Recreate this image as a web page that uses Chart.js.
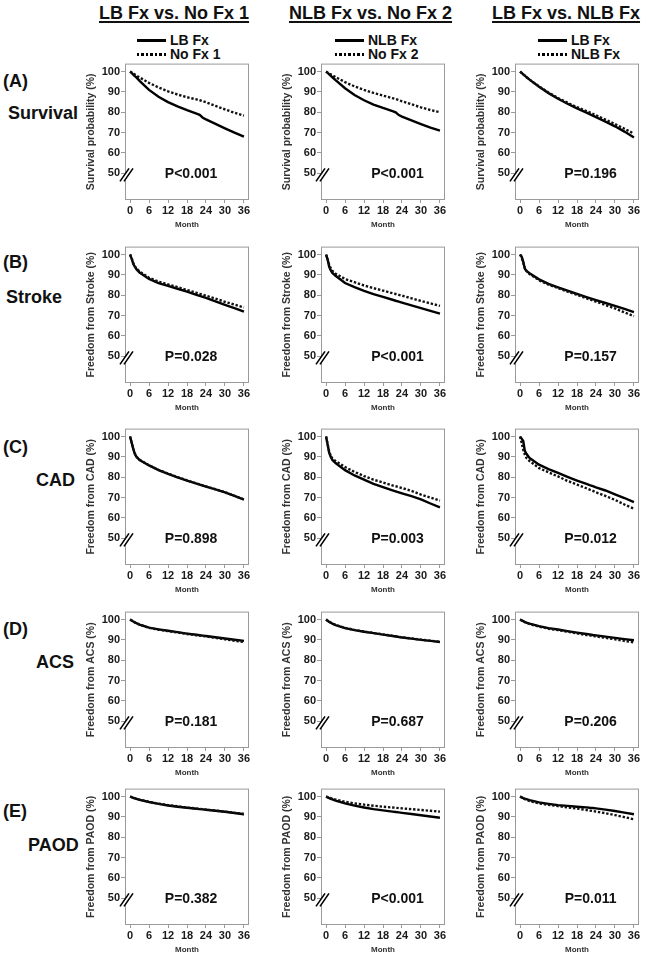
<!DOCTYPE html>
<html>
<head>
<meta charset="utf-8">
<script src="https://cdn.jsdelivr.net/npm/chart.js@4.4.0/dist/chart.umd.min.js"></script>
<style>
body { margin: 0; background: #fff; }
#fig { position: relative; width: 648px; height: 959px; overflow: hidden; font-family: "Liberation Sans", Arial, sans-serif; color: #111; }
.lbl { position: absolute; font-weight: bold; white-space: nowrap; line-height: 1; }
.coltitle { font-size: 18px; text-decoration: underline; text-decoration-thickness: 1.5px; text-underline-offset: 2px; }
.rowtag { font-size: 18px; }
.legtext { font-size: 14px; }
.solid { position: absolute; height: 3px; background: #000; }
.dotted { position: absolute; height: 3px; background: repeating-linear-gradient(90deg, #000 0 2.5px, transparent 2.5px 4.5px); }
canvas { position: absolute; }
</style>
</head>
<body>
<div id="fig"></div>
<script>
// shared axes -----------------------------------------------
const months = [0, 0.5, 1, 1.5, 2, 3, 6, 9, 12, 15, 18, 21, 22, 23, 24, 27, 30, 33, 36];
const xTicks = [0, 6, 12, 18, 24, 30, 36];
const yTicks = [50, 60, 70, 80, 90, 100];

const colTitles = ['LB Fx vs. No Fx 1', 'NLB Fx vs. No Fx 2', 'LB Fx vs. NLB Fx'];
const legendNames = [['LB Fx', 'No Fx 1'], ['NLB Fx', 'No Fx 2'], ['LB Fx', 'NLB Fx']];
const rowTags = ['(A)', '(B)', '(C)', '(D)', '(E)'];
const rowNames = ['Survival', 'Stroke', 'CAD', 'ACS', 'PAOD'];
const yTitles = ['Survival probability (%)', 'Freedom from Stroke (%)', 'Freedom from CAD (%)',
                 'Freedom from ACS (%)', 'Freedom from PAOD (%)'];
const pValues = [
    ['P<0.001', 'P<0.001', 'P=0.196'],
    ['P=0.028', 'P<0.001', 'P=0.157'],
    ['P=0.898', 'P=0.003', 'P=0.012'],
    ['P=0.181', 'P=0.687', 'P=0.206'],
    ['P=0.382', 'P<0.001', 'P=0.011']
];

// (A) survival
const survLbFx1 = [100, 99.3, 98.5, 97.8, 97.1, 95.4, 91, 87.6, 85, 82.9, 81, 79.3, 78.7, 77.3, 76.5, 74.3, 72.1, 70, 68];
const survNoFx1 = [100, 99.5, 99, 98.5, 98, 97.1, 94.4, 92.2, 90.3, 88.7, 87.4, 86.3, 85.9, 85.4, 84.9, 83.1, 81.4, 79.8, 78.3];
const survNlbFx2 = [100, 99.3, 98.6, 97.9, 97.2, 95.8, 91.8, 88.5, 85.9, 83.8, 82.1, 80.6, 80, 78.6, 77.9, 76, 74.2, 72.5, 71];
const survNoFx2 = [100, 99.5, 99.1, 98.6, 98.2, 97.3, 94.8, 92.7, 91, 89.5, 88.2, 86.9, 86.5, 86, 85.4, 83.9, 82.4, 81.1, 80];
const survLbFx3 = [100, 99.3, 98.6, 98, 97.3, 96, 92.5, 89.4, 86.6, 84.2, 81.9, 79.8, 79.1, 78.3, 77.6, 75.4, 73.1, 70.5, 67.6];
const survNlbFx3 = [100, 99.3, 98.6, 98, 97.3, 96, 92.7, 89.7, 87, 84.7, 82.5, 80.6, 79.9, 79.2, 78.5, 76.4, 74.2, 71.9, 69.5];

// (B) stroke
const strokeLbFx1 = [100, 98, 95.5, 94, 92.8, 91.2, 88, 86, 84.6, 83.2, 81.8, 80.2, 79.7, 79.2, 78.7, 77, 75.3, 73.7, 72];
const strokeNoFx1 = [100, 98.2, 95.8, 94.3, 93.2, 91.7, 88.6, 86.7, 85.3, 84, 82.6, 81.2, 80.7, 80.2, 79.8, 78.3, 76.8, 75.4, 74];
const strokeNlbFx2 = [100, 97.5, 94, 92.2, 91, 89.6, 86, 84, 82.2, 80.6, 79.2, 77.8, 77.3, 76.9, 76.4, 75, 73.7, 72.3, 71];
const strokeNoFx2 = [100, 97.8, 95, 93.2, 92, 90.6, 88, 86.4, 84.8, 83.5, 82.3, 81, 80.6, 80.2, 79.8, 78.5, 77.2, 76, 74.8];
const strokeLbFx3 = [100, 99, 96.5, 93, 92, 90.8, 87.8, 85.6, 83.9, 82.3, 80.7, 79.1, 78.6, 78.1, 77.6, 76.2, 74.8, 73.3, 71.7];
const strokeNlbFx3 = [100, 98.5, 96, 93.5, 92, 90.4, 87.4, 85.2, 83.5, 81.8, 80.2, 78.5, 78, 77.4, 76.9, 75.2, 73.5, 71.6, 69.7];

// (C) CAD
const cadLbFx1 = [100, 97, 94, 91.5, 90, 88.5, 85.8, 83.5, 81.7, 80, 78.4, 76.9, 76.4, 75.9, 75.4, 74, 72.6, 70.8, 69];
const cadNoFx1 = [100, 97, 94.2, 91.7, 90.2, 88.6, 85.9, 83.6, 81.8, 80.1, 78.5, 77, 76.5, 76, 75.5, 74.1, 72.7, 70.9, 69.1];
const cadNlbFx2 = [100, 96, 92, 90, 88.5, 87, 83.5, 80.9, 78.8, 76.8, 75.2, 73.6, 73.1, 72.6, 72.1, 70.7, 69.1, 67.1, 65.2];
const cadNoFx2 = [100, 96.2, 92.5, 90.6, 89.2, 88, 85, 82.6, 80.6, 78.8, 77.4, 76, 75.6, 75.1, 74.7, 73.3, 71.5, 70, 68.5];
const cadLbFx3 = [100, 99, 97.8, 93, 91.5, 89.5, 86.2, 84, 82.1, 80.2, 78.4, 76.7, 76.1, 75.6, 75, 73.5, 71.6, 69.8, 67.8];
const cadNlbFx3 = [100, 97, 93.5, 91.2, 89.5, 88, 84.5, 82.4, 80.4, 78.2, 76.4, 74.6, 73.9, 73.3, 72.6, 70.8, 68.9, 66.6, 64.5];

// (D) ACS
const acsLbFx1 = [100, 99.5, 99, 98.6, 98.2, 97.5, 96, 95.2, 94.5, 93.8, 93.1, 92.5, 92.3, 92.1, 91.9, 91.3, 90.7, 90.1, 89.5];
const acsNoFx1 = [100, 99.5, 99, 98.6, 98.2, 97.5, 95.9, 95, 94.3, 93.6, 92.9, 92.3, 92.1, 91.9, 91.7, 91, 90.3, 89.6, 89];
const acsNlbFx2 = [100, 99.4, 98.8, 98.4, 98, 97.3, 95.8, 94.8, 94, 93.3, 92.6, 91.9, 91.7, 91.4, 91.2, 90.6, 90, 89.5, 89];
const acsNoFx2 = [100, 99.4, 98.9, 98.5, 98.1, 97.4, 95.9, 94.9, 94.1, 93.4, 92.7, 92, 91.8, 91.5, 91.3, 90.7, 90.1, 89.6, 89.1];
const acsLbFx3 = [100, 99.6, 99.2, 98.8, 98.5, 98, 96.8, 95.8, 95.1, 94.3, 93.6, 92.9, 92.7, 92.4, 92.2, 91.6, 91, 90.4, 89.8];
const acsNlbFx3 = [100, 99.5, 99.1, 98.7, 98.4, 97.8, 96.5, 95.5, 94.8, 94, 93.2, 92.4, 92.2, 91.9, 91.7, 91, 90.3, 89.5, 88.8];

// (E) PAOD
const paodLbFx1 = [100, 99.7, 99.4, 99.1, 98.9, 98.4, 97.3, 96.4, 95.6, 95, 94.5, 94, 93.8, 93.7, 93.5, 93, 92.5, 91.9, 91.3];
const paodNoFx1 = [100, 99.7, 99.4, 99.2, 99, 98.5, 97.4, 96.5, 95.8, 95.2, 94.6, 94.1, 94, 93.8, 93.6, 93.1, 92.6, 92, 91.4];
const paodNlbFx2 = [100, 99.6, 99.2, 98.9, 98.6, 98, 96.6, 95.5, 94.6, 93.8, 93.2, 92.6, 92.4, 92.2, 92, 91.4, 90.8, 90.2, 89.6];
const paodNoFx2 = [100, 99.7, 99.4, 99.2, 99, 98.5, 97.4, 96.6, 96, 95.5, 95, 94.6, 94.5, 94.3, 94.2, 93.8, 93.4, 93, 92.6];
const paodLbFx3 = [100, 99.6, 99.2, 98.9, 98.7, 98.2, 97.1, 96.4, 95.8, 95.4, 95, 94.7, 94.5, 94.4, 94.2, 93.6, 92.9, 92.1, 91.3];
const paodNlbFx3 = [100, 99.5, 99, 98.7, 98.4, 97.8, 96.6, 95.9, 95.3, 94.7, 94.1, 93.4, 93.1, 92.9, 92.6, 91.8, 90.9, 89.9, 88.8];

// [solid, dotted] per row and column
const curves = [
    [[survLbFx1, survNoFx1], [survNlbFx2, survNoFx2], [survLbFx3, survNlbFx3]],
    [[strokeLbFx1, strokeNoFx1], [strokeNlbFx2, strokeNoFx2], [strokeLbFx3, strokeNlbFx3]],
    [[cadLbFx1, cadNoFx1], [cadNlbFx2, cadNoFx2], [cadLbFx3, cadNlbFx3]],
    [[acsLbFx1, acsNoFx1], [acsNlbFx2, acsNoFx2], [acsLbFx3, acsNlbFx3]],
    [[paodLbFx1, paodNoFx1], [paodNlbFx2, paodNoFx2], [paodLbFx3, paodNlbFx3]]
];

// layout ----------------------------------------------------
const FONT = '"Liberation Sans", Arial, sans-serif';
const colLeft = [125, 321, 515];
const rowTop = [62, 245, 427, 610, 787];
const boxW = 124, boxH = 138;
const padL = 48, padT = 6, padR = 4, padB = 34;
const pX = [19.3, 22.6, 22.3];
const rowTagY = [81, 262, 447, 629, 811];
const rowNameY = [113, 297, 480, 662, 845];
const rowNameX = [8, 6, 36, 36, 28];
const colTitleX = [99, 289, 492];
const legLineX = [137, 335, 538];

const fig = document.getElementById('fig');

function addText(txt, cls, left, centerY, size) {
    const el = document.createElement('div');
    el.className = 'lbl ' + cls;
    el.textContent = txt;
    el.style.left = left + 'px';
    el.style.top = (centerY - size * 0.49) + 'px';
    fig.appendChild(el);
}

colTitles.forEach((t, c) => addText(t, 'coltitle', colTitleX[c], 13, 18));
rowTags.forEach((t, r) => {
    addText(t, 'rowtag', 3, rowTagY[r], 18);
    addText(rowNames[r], 'rowtag', rowNameX[r], rowNameY[r], 18);
});

//Legends
legendNames.forEach((names, c) => {
    ['solid', 'dotted'].forEach((style, k) => {
        const y = 40 + k * 14;
        const line = document.createElement('div');
        line.className = style;
        line.style.left = legLineX[c] + 'px';
        line.style.width = '29px';
        line.style.top = (y - 1.5) + 'px';
        fig.appendChild(line);
        addText(names[k], 'legtext', legLineX[c] + 33, y, 14);
    });
});

// box, axis break and p value
const framePlugin = {
    id: 'frame',
    beforeDatasetsDraw(chart) {
        const {ctx, chartArea: a} = chart;
        ctx.save();
        ctx.strokeStyle = '#9a9a9a';
        ctx.lineWidth = 1;
        ctx.strokeRect(a.left + 0.5, a.top + 0.5, a.right - a.left - 1, a.bottom - a.top - 1);
        ctx.restore();
    },
    afterDatasetsDraw(chart, args, opts) {
        const {ctx, chartArea: a, scales} = chart;
        const y50 = scales.y.getPixelForValue(50);
        const x0 = a.left;
        ctx.save();
        ctx.fillStyle = '#fff';
        ctx.beginPath();
        ctx.moveTo(x0 - 5, y50 + 8);
        ctx.lineTo(x0 + 4, y50 - 5);
        ctx.lineTo(x0 + 8, y50 - 5);
        ctx.lineTo(x0 - 1, y50 + 8);
        ctx.closePath();
        ctx.fill();
        ctx.strokeStyle = '#000';
        ctx.lineWidth = 1.6;
        ctx.beginPath();
        ctx.moveTo(x0 - 5, y50 + 8); ctx.lineTo(x0 + 4, y50 - 5);
        ctx.moveTo(x0 - 1, y50 + 8); ctx.lineTo(x0 + 8, y50 - 5);
        ctx.stroke();

        ctx.fillStyle = '#111';
        ctx.font = 'bold 14px ' + FONT;
        ctx.textAlign = 'center';
        ctx.textBaseline = 'middle';
        ctx.fillText(opts.text, scales.x.getPixelForValue(opts.x), y50 + 1);
        ctx.restore();
    }
};

function points(vals) {
    return months.map((m, i) => ({x: m, y: vals[i]}));
}

curves.forEach((row, r) => {
    row.forEach(([solid, dotted], c) => {
        const cv = document.createElement('canvas');
        const w = padL + boxW + padR, h = padT + boxH + padB;
        cv.width = w; cv.height = h;
        cv.style.left = (colLeft[c] - padL) + 'px';
        cv.style.top = (rowTop[r] - padT) + 'px';
        fig.appendChild(cv);

        new Chart(cv, {
            type: 'line',
            data: {
                datasets: [
                    {data: points(dotted), borderColor: '#111', borderWidth: 2.4, borderDash: [2.4, 1.8], pointRadius: 0, tension: 0},
                    {data: points(solid), borderColor: '#000', borderWidth: 2.4, pointRadius: 0, tension: 0}
                ]
            },
            options: {
                responsive: false,
                animation: false,
                layout: {padding: {top: padT, right: padR, left: 0, bottom: 0}},
                plugins: {
                    legend: {display: false},
                    tooltip: {enabled: false},
                    frame: {text: pValues[r][c], x: pX[c]}
                },
                scales: {
                    x: {
                        type: 'linear', min: -1.6, max: 37.6,
                        afterBuildTicks: s => { s.ticks = xTicks.map(v => ({value: v})); },
                        afterFit: s => { s.height = padB; },
                        border: {display: false},
                        grid: {drawOnChartArea: false, drawTicks: true, tickLength: 3, color: '#9a9a9a'},
                        ticks: {font: {family: FONT, size: 11, weight: 'bold'}, color: '#1a1a1a', padding: 1, maxRotation: 0, autoSkip: false},
                        title: {display: true, text: 'Month', color: '#333', font: {family: FONT, size: 8, weight: 'bold'}, padding: {top: 0, bottom: 4}}
                    },
                    y: {
                        min: 36.9, max: 103.9,
                        afterBuildTicks: s => { s.ticks = yTicks.map(v => ({value: v})); },
                        afterFit: s => { s.width = padL; },
                        border: {display: false},
                        grid: {drawOnChartArea: false, drawTicks: true, tickLength: 4, color: '#9a9a9a'},
                        ticks: {font: {family: FONT, size: 11, weight: 'bold'}, color: '#1a1a1a', padding: 1},
                        title: {display: true, text: yTitles[r], color: '#333', font: {family: FONT, size: 10.5, weight: 'bold'}, padding: {top: 8, bottom: 0}}
                    }
                }
            },
            plugins: [framePlugin]
        });
    });
});
</script>
</body>
</html>
